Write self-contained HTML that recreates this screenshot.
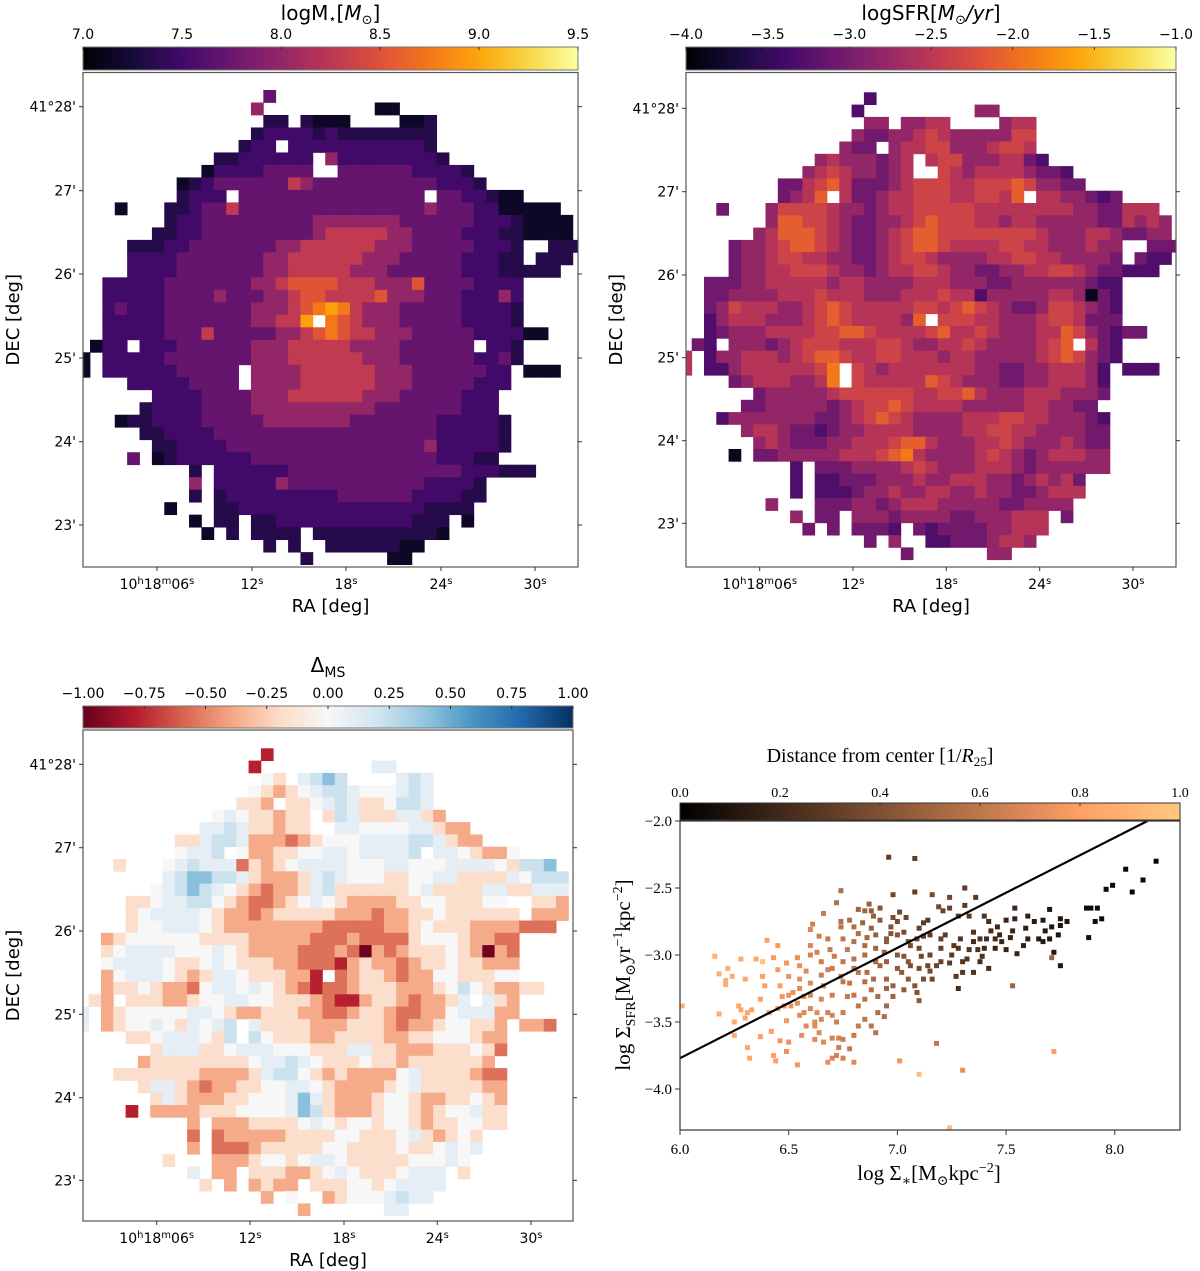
<!DOCTYPE html>
<html><head><meta charset="utf-8">
<style>
html,body{margin:0;padding:0;background:#fff;}
svg{display:block;font-family:"DejaVu Sans","Liberation Sans",sans-serif;}
.tk{font-size:14px;fill:#000;}
.sf{font-family:"Liberation Serif","DejaVu Serif",serif;}
</style></head>
<body>
<svg id="fig" width="1200" height="1271" viewBox="0 0 1200 1271" xmlns="http://www.w3.org/2000/svg">
<defs>
<clipPath id="clipM"><rect x="83" y="72.5" width="495" height="494.5"/></clipPath>
<clipPath id="clipS"><rect x="686" y="72.5" width="490" height="494.5"/></clipPath>
<clipPath id="clipD"><rect x="83" y="730" width="490" height="491"/></clipPath>
<clipPath id="clipP"><rect x="680" y="821" width="500" height="309"/></clipPath>
</defs>
<g id="panelM"></g>
<g id="panelS"></g>
<g id="panelD"></g>
<g id="panelP"></g>
</svg>
<script>
// ---------- DATA ----------
const massLevels = [7.16,7.34,7.5,7.72,8.0,8.28,8.52,8.75,8.98,9.2];
const sfrLevels = [-3.85,-3.3,-3.05,-2.8,-2.55,-2.35,-2.1,-1.9,-1.7,-1.5];
const dmsLevels = [-0.98,-0.78,-0.55,-0.38,-0.18,0.0,0.1,0.22,0.42];

const massRows = [
[1,14,"3"],[2,13,"4"],[2,23,"00"],
[3,14,"11"],[3,17,"1000"],[3,25,"001"],
[4,13,"122221211111111"],
[5,12,"122.222222222221"],
[6,10,"11222222.4222222221"],
[7,9,"022223333..33333322221"],
[8,7,"0123333335433333333332221"],
[9,7,"1222.333333333333333.3322100"],
[10,2,"0"],[10,6,"11233533333333333333343332200000"],
[11,6,"122333333333444444433333322210000"],
[12,5,"1122333333333455555443333222110000"],
[13,3,"11122333333344555555444333332221..111"],
[14,3,"2222333333344555555444333332221 1.111".replace(" ","")],
[15,3,"22223333333445555544433333322211111"],
[16,1,"2222233333334456666555444633332222"],
[17,1,"2222233334333445665555644433322242"],
[18,1,"2322233333334445678754443333322221"],
[19,1,"2222233333334455 8.7654443333322221".replace(" ","")],
[20,1,"222223335333334456765544433333222200"],
[21,0,"022.222333333444555554444333333.221"],
[22,-1,"0"],[22,1,"2222233333334445555554443333332231"],
[23,-1,"0"],[23,1,"22222233333.444455555544433333322"],[23,35,"000"],
[24,3,"222223333.444455555544433333222"],
[25,5,"2222333344455555544433333222"],
[26,4,"12222333344444444443333333222"],
[27,2,"01122223333344444443333333222221"],
[28,4,"112222333333333333333333222221"],
[29,5,"11222233333333333333334222221"],
[30,3,"3"],[30,5,"0122222233333333333333322211"],
[31,8,"1"],[31,10,"22222233333333333333222111"],
[32,8,"4"],[32,10,"2222243333333333322221"],
[33,8,"1"],[33,10,"1222222222333333222211"],
[34,6,"0"],[34,10,"112222222222222221111"],
[35,8,"0"],[35,10,"11"],[35,13,"1122222222222111"],[35,30,"0"],
[36,9,"0"],[36,11,"1"],[36,13,"1111"],[36,18,"11111111110"],
[37,14,"1"],[37,16,"1"],[37,19,"11111100"],
[38,17,"1"],[38,24,"00"]
];

const sfrRows = [
[1,14,"1"],[2,13,"1"],[2,23,"33"],
[3,14,"33"],[3,17,"3344"],[3,25,"344"],
[4,13,"322334543333355"],
[5,12,"322.344553334554"],
[6,10,"34333234.4553334421"],
[7,9,"345433234..54344443221"],
[8,7,"2245642223455544555653322"],
[9,7,"2346.4223445554455 46.4433212".replace(" ","")],
[10,2,"2"],[10,6,"35555433234455555444444443322444"],
[11,6,"366554322334565554434433333224343"],
[12,5,"3466654322345665555555543334432233"],
[13,3,"2334566543223456654444554433343 3..222".replace(" ","")],
[14,3,"223345544332234554333344554433332.211".replace("223345","23345")],
[15,3,"23344555433234455433223344554322111"],
[16,1,"2223344444344333344433322333333211"],
[17,1,"2233334445444333444544133333443021"],
[18,1,"2354443345654444455456543223554321"],
[19,1,"134443334565444436.555443334554222"],
[20,1,"123334444556654444564454333446532122"],
[21,0,"21.3332345554445543344543333456.421"],
[22,-1,"4"],[22,1,"1334443456654455444344333334565321"],
[23,-1,"4"],[23,1,"11344444457.543444444433223344431"],[23,35,"111"],
[24,3,"234443347.544444654333223344431"],
[25,5,"23333345555554455643334443332 1".replace(" ","").slice(0,29)],
[26,4,"22333332345565444433333443322"],
[27,2,"13333333223456543333444554433321"],
[28,4,"344322123344443333445544333322"],
[29,5,"34322233444566433344543334322"],
[30,3,"0"],[30,5,"2233333444567433334543234443 3".replace(" ","")],
[31,8,"1.22233334543334443233 3333".replace(" ","")],
[32,8,"1.112223334334443323434 2".replace(" ","")],
[33,8,"1.1112334334433433223444".slice(0,24)],
[34,6,"3"],[34,10,"222332344433333223333"],
[35,8,"3"],[35,10,"22"],[35,13,"3332333322333444"],[35,30,"2"],
[36,9,"2"],[36,11,"2"],[36,13,"2221"],[36,18,"21222233444"],
[37,14,"2"],[37,16,"3"],[37,19,"112223443"],
[38,17,"2"],[38,24,"33"]
];

const dmsRows = [
[1,14,"1"],[2,13,"1"],[2,23,"66"],
[3,14,"54"],[3,17,"6787"],[3,25,"676"],
[4,13,"543456776555676"],
[5,12,"443.445676445776"],
[6,10,"56544344.4764446643"],
[7,9,"667644344..66555566433"],
[8,7,"4467763332345556666776433"],
[9,7,"5667.533445566566667.6654335"],
[10,2,"4"],[10,6,"56766624345666655566555666654778"],
[11,6,"678877643334676555445566444465777"],
[12,5,"5678765432334674444445644446644666"],
[13,3,"4456677543223456543333445544455..443"],
[14,3,"456666543323444443332334454444 44.333".replace(" ","")],
[15,3,"45566654333333332222233454443333222"],
[16,1,"3455555544443333322232222455543322"],
[17,1,"4566665556543333222320323444543032"],
[18,1,"5666654456544433222134332344544333"],
[19,1,"356665434665444331.234432335544455"],
[20,1,"344543325665654321223444333457543344"],
[21,0,"43.4443345566554443211344323346.643"],
[22,-1,"6"],[22,1,"3455555665433444332234432233566633"],
[23,-1,"6"],[23,1,"34556546567.644443334443233455443"],[23,35,"332"],
[24,3,"445666547.75444334444334455543 3".replace(" ","")],
[25,5,"46664456665554446644333444542"],
[26,4,"34444444456676544454434444443"],
[27,2,"44444443333467754343333564444322"],
[28,4,"466432334455665433334564444433"],
[29,5,"46433344555686433345543344543"],
[30,3,"1"],[30,5,"3333444555568743334554345564 4".replace(" ","")],
[31,8,"3.333444456545545543445544".slice(0,26)],
[32,8,"2.23333344445544456434 54".replace(" ","")],
[33,8,"3.22234444455444454456 56".replace(" ","")],
[34,6,"4"],[34,10,"333455456654444455565"],
[35,8,"6"],[35,10,"33"],[35,13,"4443345654445666"],[35,30,"4"],
[36,9,"4"],[36,11,"3"],[36,13,"3433"],[36,18,"44455456666"],
[37,14,"3"],[37,16,"5"],[37,19,"345556766"],
[38,17,"3"],[38,24,"66"]
];

// tick labels
const massCbTicks = [7.0,7.5,8.0,8.5,9.0,9.5];
const massCbLabels = ["7.0","7.5","8.0","8.5","9.0","9.5"];
const sfrCbTicks = [-4.0,-3.5,-3.0,-2.5,-2.0,-1.5,-1.0];
const sfrCbLabels = ["\u22124.0","\u22123.5","\u22123.0","\u22122.5","\u22122.0","\u22121.5","\u22121.0"];
const dmsCbTicks = [-1,-0.75,-0.5,-0.25,0,0.25,0.5,0.75,1];
const dmsCbLabels = ["\u22121.00","\u22120.75","\u22120.50","\u22120.25","0.00","0.25","0.50","0.75","1.00"];
const decLabels = ["41\u00b028'","27'","26'","25'","24'","23'"];
const raSecs = ["06","12","18","24","30"];
const distCbTicks = [0,0.2,0.4,0.6,0.8,1.0];
const distCbLabels = ["0.0","0.2","0.4","0.6","0.8","1.0"];
const scXTicks = [6.0,6.5,7.0,7.5,8.0];
const scXLabels = ["6.0","6.5","7.0","7.5","8.0"];
const scYTicks = [-2.0,-2.5,-3.0,-3.5,-4.0];
const scYLabels = ["\u22122.0","\u22122.5","\u22123.0","\u22123.5","\u22124.0"];
const msLineX = [6.0,8.15];
const msLineY = [-3.77,-2.0];

// scatter points [logSigmaStar, logSigmaSFR, distance]
const scatterPoints = [
[6.01,-3.38,.88],[6.16,-3.01,.88],[6.18,-3.14,.88],[6.22,-3.10,.88],[6.21,-3.19,.88],[6.21,-3.22,.86],[6.24,-3.16,.86],[6.18,-3.44,.86],[6.25,-3.50,.86],[6.25,-3.60,.86],
[6.27,-3.38,.84],[6.28,-3.41,.84],[6.28,-3.03,.85],[6.30,-3.18,.84],[6.31,-3.43,.84],[6.30,-3.47,.84],[6.33,-3.41,.82],[6.31,-3.69,.84],[6.32,-3.77,.84],[6.35,-3.03,.84],
[6.38,-3.05,.97],[6.40,-2.89,.8],[6.45,-2.93,.78],[6.38,-3.16,.8],[6.39,-3.23,.8],[6.37,-3.33,.8],[6.37,-3.61,.8],[6.42,-3.57,.8],[6.43,-3.75,.8],[6.44,-3.79,.8],
[6.41,-3.43,.78],[6.43,-3.02,.78],[6.45,-3.11,.78],[6.46,-3.23,.78],[6.47,-3.31,.76],[6.49,-3.06,.76],[6.50,-3.16,.74],[6.48,-3.38,.76],[6.49,-3.49,.76],[6.51,-3.38,.74],
[6.54,-3.02,.72],[6.55,-3.08,.72],[6.55,-3.18,.72],[6.52,-3.28,.74],[6.54,-3.36,.72],[6.57,-3.31,.7],[6.58,-3.12,.7],[6.60,-3.21,.7],[6.60,-2.81,.68],[6.61,-2.77,.66],
[6.60,-2.93,.68],[6.63,-2.98,.66],[6.64,-2.86,.64],[6.66,-2.69,.62],[6.68,-2.88,.62],[6.68,-3.11,.66],[6.69,-2.96,.62],[6.71,-3.01,.62],[6.66,-3.23,.66],[6.65,-3.33,.68],
[6.63,-3.43,.7],[6.62,-3.53,.7],[6.64,-3.58,.7],[6.66,-3.65,.7],[6.68,-3.80,.72],[6.70,-3.77,.68],[6.72,-3.75,.66],[6.75,-3.77,.66],[6.80,-3.80,.7],[6.73,-3.62,.66],
[6.75,-3.63,.64],[6.70,-3.62,.66],[6.54,-3.82,.76],[6.58,-3.53,.7],[6.57,-3.43,.7],[6.72,-2.61,.56],[6.74,-2.52,.55],[6.74,-2.75,.56],[6.74,-2.79,.58],[6.75,-2.88,.6],
[6.77,-2.96,.6],[6.78,-2.74,.55],[6.80,-2.79,.55],[6.82,-2.84,.54],[6.84,-2.76,.5],[6.82,-2.66,.5],[6.85,-2.67,.5],[6.87,-2.62,.48],[6.88,-2.67,.46],[6.92,-2.65,.42],
[6.92,-2.74,.44],[6.89,-2.71,.46],[6.88,-2.80,.48],[6.86,-2.87,.52],[6.85,-2.93,.54],[6.80,-3.03,.58],[6.82,-3.13,.58],[6.78,-3.21,.6],[6.77,-3.31,.62],[6.75,-3.43,.64],
[6.82,-3.38,.6],[6.85,-3.33,.58],[6.88,-3.26,.56],[6.89,-3.18,.54],[6.92,-3.08,.5],[6.94,-2.98,.48],[6.95,-2.88,.45],[6.97,-2.79,.42],[6.97,-2.84,.42],[6.98,-2.72,.38],
[7.00,-2.75,.38],[7.01,-2.68,.35],[6.98,-2.55,.35],[6.96,-2.27,.3],[7.08,-2.28,.3],[7.08,-2.53,.3],[7.04,-2.72,.35],[7.03,-2.83,.38],[7.06,-2.93,.38],[7.09,-2.88,.35],
[7.11,-3.01,.36],[7.12,-2.76,.3],[7.14,-2.74,.28],[7.12,-2.86,.32],[7.03,-3.01,.42],[7.02,-3.13,.45],[7.05,-3.18,.44],[7.08,-3.23,.42],[7.10,-3.34,.45],[6.98,-3.31,.5],
[6.95,-3.38,.52],[6.91,-3.43,.55],[6.88,-3.53,.58],[6.90,-3.58,.58],[6.85,-3.48,.6],[6.82,-3.53,.62],[6.80,-3.60,.62],[6.78,-3.70,.62],[6.73,-3.69,.64],[7.01,-3.79,.75],
[7.10,-3.89,.95],[6.94,-3.46,.55],[6.98,-3.23,.48],[7.06,-3.08,.4],[7.14,-3.08,.36],[7.12,-3.18,.38],[7.09,-3.28,.42],[7.03,-3.26,.45],[6.95,-3.18,.5],[6.91,-3.31,.54],
[6.86,-3.13,.56],[6.74,-3.16,.62],[6.68,-3.43,.66],[6.65,-3.48,.68],[6.62,-3.63,.7],[6.56,-3.60,.72],[6.50,-3.65,.74],[6.49,-3.72,.74],[6.46,-3.64,.76],
[6.85,-3.0,.54],[6.9,-2.95,.5],[6.95,-3.05,.48],[7.0,-3.0,.44],[7.05,-3.05,.42],[7.1,-2.95,.36],[7.15,-3.0,.34],[7.2,-3.05,.32],[7.2,-2.95,.3],[7.15,-3.12,.36],
[7.1,-3.1,.38],[7.0,-3.1,.45],[6.9,-3.05,.52],[6.8,-3.1,.58],[6.75,-3.05,.6],[6.7,-3.1,.62],[6.65,-3.05,.64],[6.6,-3.0,.66],[6.55,-3.25,.7],[6.5,-3.3,.74],
[6.45,-3.4,.78],[6.6,-3.4,.68],[6.7,-3.45,.66],[6.65,-3.15,.64],[6.75,-3.2,.6],[6.85,-3.2,.56],[6.95,-3.25,.5],[7.05,-2.9,.38],[7.1,-2.8,.32],[7.15,-2.85,.3],
[7.25,-3.0,.28],[7.3,-3.05,.26],[7.28,-2.95,.26],[7.35,-2.9,.22],[7.4,-2.95,.2],[7.45,-2.95,.18],[7.48,-2.9,.18],[7.38,-3.05,.22],[6.9,-2.85,.48],[6.8,-2.9,.56],
[6.95,-2.9,.45],[7.0,-2.85,.42],[6.6,-3.3,.68],[6.7,-3.3,.64],[6.8,-3.3,.6],[6.55,-3.45,.72],[6.62,-3.5,.7],[6.72,-3.5,.66],
[8.19,-2.30,.02],[8.05,-2.36,.03],[8.13,-2.44,.03],[7.99,-2.48,.04],[7.96,-2.51,.04],[8.08,-2.53,.03],[7.87,-2.65,.05],[7.89,-2.65,.05],[7.92,-2.65,.05],[7.94,-2.73,.05],
[7.91,-2.75,.06],[7.88,-2.87,.06],[7.70,-2.66,.1],[7.75,-2.73,.1],[7.78,-2.75,.09],[7.75,-2.78,.1],[7.71,-2.79,.1],[7.74,-2.85,.1],[7.70,-2.88,.11],[7.67,-2.90,.12],
[7.72,-2.98,.12],[7.75,-3.08,.12],[7.71,-3.02,.5],[7.65,-2.88,.13],[7.63,-2.75,.13],[7.67,-2.74,.12],[7.68,-2.82,.12],[7.60,-2.71,.15],[7.59,-2.80,.15],[7.60,-2.88,.15],
[7.58,-2.93,.16],[7.55,-2.99,.17],[7.54,-2.65,.2],[7.54,-2.73,.17],[7.53,-2.82,.17],[7.52,-2.87,.17],[7.50,-2.96,.18],[7.50,-2.74,.18],[7.47,-2.85,.19],[7.46,-2.79,.2],
[7.45,-2.88,.2],[7.43,-2.82,.21],[7.42,-2.75,.22],[7.41,-2.88,.22],[7.39,-3.01,.24],[7.42,-3.10,.22],[7.40,-2.71,.25],[7.36,-2.57,.28],[7.31,-2.50,.3],[7.31,-2.63,.28],
[7.28,-3.25,.22],[7.53,-3.23,.5],[7.18,-3.66,.6],[7.30,-3.86,.72],[7.72,-3.72,.8],[7.24,-4.29,.95],
[7.35,-2.83,.25],[7.33,-2.96,.26],[7.32,-3.03,.26],[7.29,-2.88,.27],[7.26,-2.93,.28],[7.24,-3.06,.3],[7.22,-2.85,.3],[7.20,-2.88,.32],[7.18,-3.08,.33],[7.16,-3.18,.35],
[7.30,-3.13,.27],[7.27,-3.16,.28],[7.35,-3.13,.25],[7.37,-2.96,.24],[7.38,-2.88,.24],[7.33,-2.71,.28],[7.28,-2.71,.3],[7.24,-2.65,.32],[7.21,-2.67,.33],[7.24,-2.57,.35],
[7.16,-2.55,.38],[7.19,-2.64,.35]
];

// ---------- COLORMAPS ----------
const NS="http://www.w3.org/2000/svg";
const infernoStops=["#000004","#160b39","#420a68","#6a176e","#932667","#bc3754","#dd513a","#f37819","#fca50a","#f6d746","#fcffa4"];
const rdbuStops=["#67001f","#b2182b","#d6604d","#f4a582","#fddbc7","#f7f7f7","#d1e5f0","#92c5de","#4393c3","#2166ac","#053061"];
function hex2rgb(h){return [parseInt(h.slice(1,3),16),parseInt(h.slice(3,5),16),parseInt(h.slice(5,7),16)];}
function interp(stops,t){t=Math.max(0,Math.min(1,t));const n=stops.length-1;const i=Math.min(n-1,Math.floor(t*n));const f=t*n-i;const a=hex2rgb(stops[i]),b=hex2rgb(stops[i+1]);return "rgb("+a.map((v,k)=>Math.round(v+(b[k]-v)*f)).join(",")+")";}
function copper(d){return "rgb("+Math.round(255*Math.min(1,1.25*d))+","+Math.round(255*0.7812*d)+","+Math.round(255*0.4975*d)+")";}

function el(tag,attrs,parent){const e=document.createElementNS(NS,tag);for(const k in attrs)e.setAttribute(k,attrs[k]);parent.appendChild(e);return e;}
function txt(parent,x,y,s,anchor,size,cls){const t=el("text",{x:x,y:y,"text-anchor":anchor||"middle","font-size":size||14},parent);if(cls)t.setAttribute("class",cls);t.textContent=s;return t;}

function gradient(id,stops,fn){const g=el("linearGradient",{id:id,x1:"0",x2:"1",y1:"0",y2:"0"},document.querySelector("defs"));for(let i=0;i<=40;i++){el("stop",{offset:(i/40),"stop-color":fn(i/40)},g);}}
gradient("gInf",infernoStops,t=>interp(infernoStops,t));
gradient("gRd",rdbuStops,t=>interp(rdbuStops,t));
gradient("gCu",null,t=>copper(t));

// ---------- MAP PANEL ----------
function drawMap(p){
  const g=document.getElementById(p.gid);
  const cb=el("g",{},g);
  
  
  el("rect",{x:p.ax,y:p.cbY,width:p.aw,height:p.cbH,fill:"url(#"+p.grad+")",stroke:"#777","stroke-width":1},cb);
  p.cbTicks.forEach((v,i)=>{const x=p.ax+(v-p.vmin)/(p.vmax-p.vmin)*p.aw;
    el("line",{x1:x,x2:x,y1:p.cbY,y2:p.cbY+3,stroke:"#333","stroke-width":1},cb);
    const t=txt(cb,x,p.cbY-8,p.cbLabels[i],"middle",14,"tk");
    
    });
  const title=txt(cb,p.ax+p.aw/2,p.titleY,"",  "middle",20);
  
  
  p.title(title);
  const cg=el("g",{"clip-path":"url(#"+p.clip+")"},g);
  
  
  p.rows.forEach(([r,c0,s])=>{for(let k=0;k<s.length;k++){const ch=s[k];if(ch==="."||ch===" ")continue;const lv=+ch;const v=p.levels[lv];
    const x=p.x0+(c0+k)*p.cw,y=p.y0+r*p.ch;
    const rc=el("rect",{x:x.toFixed(2),y:y.toFixed(2),width:(p.cw+0.4).toFixed(2),height:(p.ch+0.4).toFixed(2),fill:p.cmap((v-p.vmin)/(p.vmax-p.vmin))},cg);
    
    }});
  const fr=el("rect",{x:p.ax,y:p.ay,width:p.aw,height:p.ah,fill:"none",stroke:"#555","stroke-width":1.2},g);
  
  
  p.yt.forEach((y,i)=>{el("line",{x1:p.ax-4,x2:p.ax,y1:y,y2:y,stroke:"#333"},g);el("line",{x1:p.ax+p.aw,x2:p.ax+p.aw+4,y1:y,y2:y,stroke:"#333"},g);
    const t=txt(g,p.ax-7,y+5,decLabels[i],"end",14,"tk");
    
    });
  p.xt.forEach((x,i)=>{el("line",{x1:x,x2:x,y1:p.ay+p.ah,y2:p.ay+p.ah+4,stroke:"#333"},g);
    const t=el("text",{x:x,y:p.ay+p.ah+22,"text-anchor":"middle","font-size":14,"class":"tk"},g);
    
    
    if(i===0){t.innerHTML='10<tspan dy="-5" font-size="10">h</tspan><tspan dy="5">18</tspan><tspan dy="-5" font-size="10">m</tspan><tspan dy="5">'+raSecs[i]+'</tspan><tspan dy="-5" font-size="10">s</tspan>';}
    else{t.innerHTML=raSecs[i]+'<tspan dy="-5" font-size="10">s</tspan>';}});
  const xl=txt(g,p.ax+p.aw/2,p.ay+p.ah+45,"RA [deg]","middle",18);
  
  
  const yl=txt(g,0,0,"DEC [deg]","middle",18);
  yl.setAttribute("transform","translate("+(p.ax-64)+","+(p.ay+p.ah/2)+") rotate(-90)");
  
  
}

drawMap({gid:"panelM",name:"mass",rows:massRows,levels:massLevels,vmin:7.0,vmax:9.5,cmap:t=>interp(infernoStops,t),grad:"gInf",
  ax:83,ay:72.5,aw:495,ah:494.5,cbY:47,cbH:23,titleY:20,clip:"clipM",
  x0:90,cw:12.38,y0:77.5,ch:12.49,cbTicks:massCbTicks,cbLabels:massCbLabels,
  yt:[106.7,190.7,274,358,441.7,525],xt:[157,252,346,441,535],
  title:t=>{t.innerHTML='logM<tspan font-size="13" dy="3">\u22c6</tspan><tspan dy="-3">[</tspan><tspan font-style="italic">M</tspan><tspan font-size="13" dy="4">\u2299</tspan><tspan dy="-4">]</tspan>';}});
drawMap({gid:"panelS",name:"sfr",rows:sfrRows,levels:sfrLevels,vmin:-4.0,vmax:-1.0,cmap:t=>interp(infernoStops,t),grad:"gInf",
  ax:686,ay:72.5,aw:490,ah:494.5,cbY:47,cbH:23,titleY:20,clip:"clipS",
  x0:691.7,cw:12.3,y0:80,ch:12.3,cbTicks:sfrCbTicks,cbLabels:sfrCbLabels,
  yt:[108.3,191.7,275,357.7,440.7,523.3],xt:[759.7,853,946.3,1039.7,1133],
  title:t=>{t.innerHTML='logSFR[<tspan font-style="italic">M</tspan><tspan font-size="13" dy="4">\u2299</tspan><tspan dy="-4" font-style="italic">/yr</tspan>]';}});
drawMap({gid:"panelD",name:"delta-ms",rows:dmsRows,levels:dmsLevels,vmin:-1,vmax:1,cmap:t=>interp(rdbuStops,t),grad:"gRd",
  ax:83,ay:730,aw:490,ah:491,cbY:706,cbH:22,titleY:672,clip:"clipD",
  x0:88.7,cw:12.3,y0:736,ch:12.3,cbTicks:dmsCbTicks,cbLabels:dmsCbLabels,
  yt:[764.3,847.7,931,1014.3,1097.7,1180.3],xt:[156.7,250,344,437.3,531],
  title:t=>{t.innerHTML='\u0394<tspan font-size="14" dy="5">MS</tspan>';}});

// ---------- SCATTER ----------
(function(){
  const g=document.getElementById("panelP");
  const ax=680,ay=821,aw=500,ah=309,xmin=6.0,xmax=8.3,ymax=-2.0,ymin=-4.306;
  const X=v=>ax+(v-xmin)/(xmax-xmin)*aw, Y=v=>ay+(ymax-v)/(ymax-ymin)*ah;
  const cb=el("g",{},g);
  
  
  el("rect",{x:ax,y:803,width:aw,height:17,fill:"url(#gCu)",stroke:"#333","stroke-width":1},cb);
  distCbTicks.forEach((v,i)=>{const x=ax+v*aw;el("line",{x1:x,x2:x,y1:803,y2:806,stroke:"#333"},cb);
    const t=txt(cb,x,797,distCbLabels[i],"middle",14,"sf");
    
    });
  const ti=el("text",{x:880,y:762,"text-anchor":"middle","font-size":20,"class":"sf"},cb);
  
  
  ti.innerHTML='Distance from center [1/<tspan font-style="italic">R</tspan><tspan font-size="13" dy="4">25</tspan><tspan dy="-4">]</tspan>';
  const pg=el("g",{"clip-path":"url(#clipP)"},g);
  scatterPoints.forEach(([x,y,d])=>{const r=el("rect",{x:(X(x)-2.5).toFixed(1),y:(Y(y)-2.5).toFixed(1),width:5,height:5,fill:copper(d)},pg);
    
    });
  const ln=el("line",{x1:X(msLineX[0]),y1:Y(msLineY[0]),x2:X(msLineX[1]),y2:Y(msLineY[1]),stroke:"#000","stroke-width":2.2},pg);
  
  
  const fr=el("rect",{x:ax,y:ay,width:aw,height:ah,fill:"none",stroke:"#333","stroke-width":1.2},g);
  
  
  scXTicks.forEach((v,i)=>{const x=X(v);el("line",{x1:x,x2:x,y1:ay+ah,y2:ay+ah+5,stroke:"#333"},g);
    const t=txt(g,x,ay+ah+24,scXLabels[i],"middle",15,"sf");
    
    });
  scYTicks.forEach((v,i)=>{const y=Y(v);el("line",{x1:ax-5,x2:ax,y1:y,y2:y,stroke:"#333"},g);
    const t=txt(g,ax-8,y+5,scYLabels[i],"end",15,"sf");
    
    });
  const xl=el("text",{x:929,y:1180,"text-anchor":"middle","font-size":21,"class":"sf"},g);
  
  
  xl.innerHTML='log \u03a3<tspan font-size="14" dy="5">\u2217</tspan><tspan dy="-5">[M</tspan><tspan font-size="14" dy="5">\u2299</tspan><tspan dy="-5">kpc</tspan><tspan font-size="14" dy="-8">\u22122</tspan><tspan dy="8">]</tspan>';
  const yl=el("text",{x:0,y:0,"text-anchor":"middle","font-size":21,"class":"sf",transform:"translate(630,975) rotate(-90)"},g);
  
  
  yl.innerHTML='log \u03a3<tspan font-size="14" dy="5">SFR</tspan><tspan dy="-5">[M</tspan><tspan font-size="14" dy="5">\u2299</tspan><tspan dy="-5">yr</tspan><tspan font-size="14" dy="-8">\u22121</tspan><tspan dy="8">kpc</tspan><tspan font-size="14" dy="-8">\u22122</tspan><tspan dy="8">]</tspan>';
})();
</script>
</body></html>
